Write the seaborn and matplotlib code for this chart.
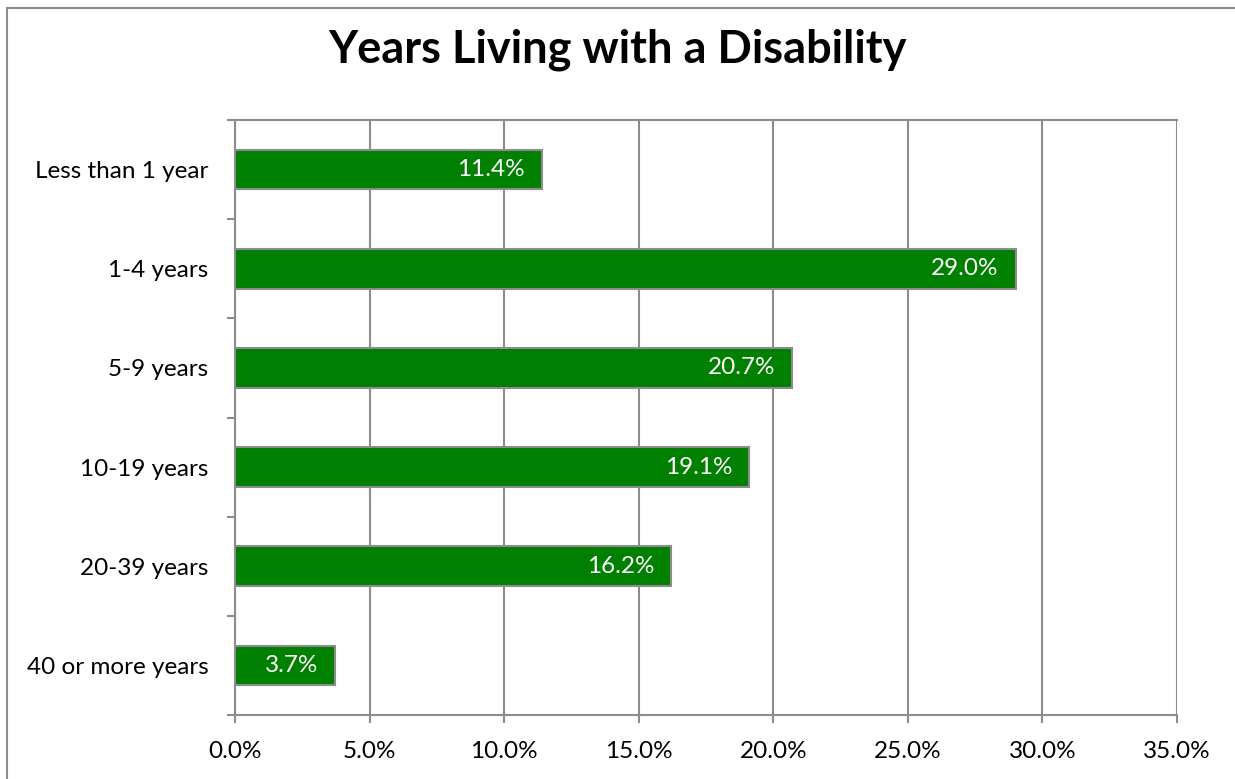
import matplotlib
matplotlib.use("Agg")
import matplotlib.pyplot as plt
import matplotlib.patches as patches
import seaborn as sns
import pandas as pd

# chart data
categories = ["Less than 1 year", "1-4 years", "5-9 years", "10-19 years",
              "20-39 years", "40 or more years"]
shares = [11.4, 29.0, 20.7, 19.1, 16.2, 3.7]
x_ticks = [0, 5, 10, 15, 20, 25, 30, 35]

df = pd.DataFrame({"category": categories, "share": shares})

sns.set_style("white")
plt.rcParams["font.family"] = ["Lato", "DejaVu Sans"]
plt.rcParams["text.color"] = "black"
plt.rcParams["xtick.labelcolor"] = "black"
plt.rcParams["ytick.labelcolor"] = "black"

grey = "#8c8c8c"
fs = 17.5
fig = plt.figure(figsize=(12.35, 7.79), dpi=100)
ax = fig.add_axes([235 / 1235, 1 - 715 / 779, (1177 - 235) / 1235, (715 - 120) / 779])

sns.barplot(data=df, x="share", y="category", orient="h", color="#008000",
            saturation=1, width=0.4, edgecolor=grey, linewidth=1.5, ax=ax, zorder=3)

for i, v in enumerate(shares):
    ax.annotate(f"{v:.1f}%", xy=(v, i), xytext=(-12, 0), textcoords="offset points",
                ha="right", va="center", color="white", fontsize=fs, zorder=4)

ax.set_xlim(0, 35)
ax.set_ylim(len(categories) - 0.5, -0.5)
ax.set_xticks(x_ticks)
ax.set_xticklabels([f"{t:.1f}%" for t in x_ticks], fontsize=fs)
ax.set_yticks(range(len(categories)))
ax.set_yticklabels(categories, fontsize=fs)
ax.set_yticks([i - 0.5 for i in range(len(categories) + 1)], minor=True)
ax.tick_params(axis="y", which="major", length=0, pad=19)
ax.tick_params(axis="y", which="minor", length=6, width=1.5, color=grey, direction="out", left=True)
ax.tick_params(axis="x", length=6, width=1.5, color=grey, direction="out", bottom=True, pad=13)
ax.set_xlabel("")
ax.set_ylabel("")
ax.grid(axis="x", color=grey, linewidth=1.5, zorder=0)
ax.set_axisbelow(True)
for side in ["left", "bottom", "top"]:
    ax.spines[side].set_color(grey)
    ax.spines[side].set_linewidth(1.5)
ax.spines["right"].set_visible(False)

fig.text(0.5, 1 - 50 / 779, "Years Living with a Disability", ha="center", va="center",
         fontsize=32.5, fontweight="bold")

frame = patches.Rectangle((7 / 1235, -0.1), 1.2, 1.1 - 8 / 779,
                          transform=fig.transFigure, fill=False, edgecolor=grey,
                          linewidth=1.5, clip_on=False)
fig.add_artist(frame)

fig.savefig("out.png", dpi=100)
